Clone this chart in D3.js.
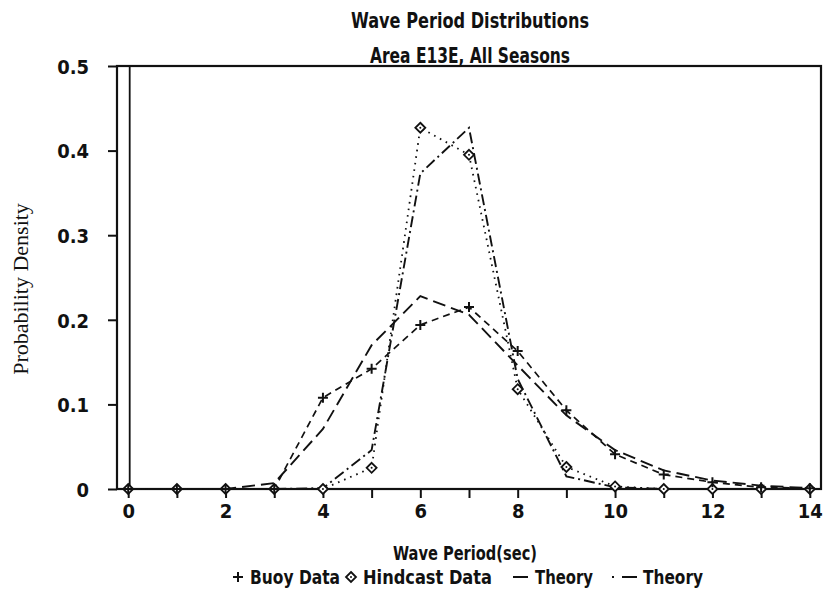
<!DOCTYPE html>
<html>
<head>
<meta charset="utf-8">
<script src="https://cdn.jsdelivr.net/npm/d3@7"></script>
<style>
  html, body { margin: 0; padding: 0; background: #fff; }
  svg { display: block; }
  .cond { font-family: "DejaVu Sans Condensed", "DejaVu Sans", sans-serif; font-weight: bold; fill: #111; }
  .serif { font-family: "Liberation Serif", "DejaVu Serif", serif; fill: #111; }
</style>
</head>
<body>
<svg id="chart" width="825" height="591"></svg>
<script>
// Wave period (s) at which the densities are tabulated
const periods = [0, 1, 2, 3, 4, 5, 6, 7, 8, 9, 10, 11, 12, 13, 14];
// Observed and modelled probability densities
const buoyData     = [0, 0, 0, 0, 0.108, 0.142, 0.194, 0.215, 0.163, 0.093, 0.041, 0.017, 0.008, 0.002, 0.001];
const hindcastData = [0, 0, 0, 0, 0, 0.025, 0.427, 0.395, 0.118, 0.026, 0.003, 0, 0, 0, 0];
const theoryBuoy   = [0, 0, 0, 0.007, 0.071, 0.170, 0.228, 0.206, 0.146, 0.087, 0.046, 0.022, 0.010, 0.004, 0.001];
const theoryHind   = [0, 0, 0, 0, 0.001, 0.046, 0.373, 0.427, 0.130, 0.015, 0.002, 0, 0, 0, 0];
// Axis ticks
const xTicks = [0, 1, 2, 3, 4, 5, 6, 7, 8, 9, 10, 11, 12, 13, 14];
const xTickLabels = [0, 2, 4, 6, 8, 10, 12, 14];
const yTicks = [0, 0.1, 0.2, 0.3, 0.4, 0.5];
const legendItems = ["Buoy Data", "Hindcast Data", "Theory", "Theory"];

const svg = d3.select("#chart");
const plotL = 117, plotR = 821, plotT = 66, plotB = 489;

const x = d3.scaleLinear().domain([-0.23, 14.23]).range([plotL, plotR]);
const y = d3.scaleLinear().domain([0, 0.5]).range([plotB, plotT]);

// Condensed bold label with a fixed drawn width
const condText = (g, tx, ty, str, size, width, anchor = "start") =>
  g.append("text").attr("class", "cond").attr("x", tx).attr("y", ty)
    .attr("font-size", size).attr("text-anchor", anchor)
    .attr("textLength", width).attr("lengthAdjust", "spacingAndGlyphs").text(str);

// Titles
condText(svg, 470, 28, "Wave Period Distributions", 22, 238, "middle");
condText(svg, 470, 63, "Area E13E, All Seasons", 22, 200, "middle");

// Axes
const yAxis = d3.axisLeft(y).tickValues(yTicks).tickSize(9).tickPadding(19)
  .tickFormat(d => d === 0 ? "0" : d3.format(".1f")(d));
const gy = svg.append("g").attr("transform", `translate(${plotL},0)`).call(yAxis);
gy.select(".domain").remove();
gy.selectAll(".tick line").attr("stroke", "#111").attr("stroke-width", 2);
gy.selectAll(".tick text").attr("class", "cond").attr("font-size", 20).attr("dy", "0.36em");

const xAxis = d3.axisBottom(x).tickValues(xTicks).tickSize(9).tickPadding(3)
  .tickFormat(d => xTickLabels.includes(d) ? d : "");
const gx = svg.append("g").attr("transform", `translate(0,${plotB})`).call(xAxis);
gx.select(".domain").remove();
gx.selectAll(".tick line").attr("stroke", "#111").attr("stroke-width", 2);
gx.selectAll(".tick text").attr("class", "cond").attr("font-size", 20).attr("dy", "0.85em");

// Plot frame and the zero-period line
svg.append("rect").attr("x", plotL).attr("y", plotT).attr("width", plotR - plotL).attr("height", plotB - plotT)
  .attr("fill", "none").attr("stroke", "#111").attr("stroke-width", 2.2);
svg.append("line").attr("x1", x(0) + 1.5).attr("x2", x(0) + 1.5).attr("y1", y(0.5)).attr("y2", y(0))
  .attr("stroke", "#111").attr("stroke-width", 1.8);

// Curves
const line = d3.line().x((d, i) => x(periods[i])).y(d => y(d));
const curves = [
  { data: buoyData, dash: "7,5", w: 1.7 },
  { data: theoryBuoy, dash: "13,6", w: 1.9 },
  { data: hindcastData, dash: "1.6,5", w: 1.8 },
  { data: theoryHind, dash: "11,4,2,4", w: 1.9 }
];
curves.forEach(c => {
  svg.append("path").attr("d", line(c.data)).attr("fill", "none")
    .attr("stroke", "#111").attr("stroke-width", c.w).attr("stroke-dasharray", c.dash);
});

// Markers
const plus = (g, cx, cy, s) => {
  g.append("path").attr("d", `M${cx - s},${cy}H${cx + s}M${cx},${cy - s}V${cy + s}`)
    .attr("stroke", "#111").attr("stroke-width", 2).attr("fill", "none");
};
const diamond = (g, cx, cy, s) => {
  g.append("path").attr("d", `M${cx},${cy - s}L${cx + s},${cy}L${cx},${cy + s}L${cx - s},${cy}Z`)
    .attr("stroke", "#111").attr("stroke-width", 1.8).attr("fill", "#fff");
  g.append("circle").attr("cx", cx).attr("cy", cy).attr("r", 1).attr("fill", "#111");
};
const gm = svg.append("g");
periods.forEach((p, i) => {
  diamond(gm, x(p), y(hindcastData[i]), 5);
  plus(gm, x(p), y(buoyData[i]), 5);
});

// Axis titles
svg.append("text").attr("class", "serif").attr("font-size", 22)
  .attr("transform", "translate(28,289) rotate(-90)").attr("text-anchor", "middle")
  .text("Probability Density");
condText(svg, 465, 560, "Wave Period(sec)", 19, 144, "middle");

// Legend
const lg = svg.append("g");
const ly = 584;
plus(lg, 238, ly - 7, 5);
condText(lg, 250, ly, legendItems[0], 19, 90);
diamond(lg, 351, ly - 7, 5);
condText(lg, 363, ly, legendItems[1], 19, 129);
lg.append("line").attr("x1", 513).attr("x2", 528).attr("y1", ly - 7).attr("y2", ly - 7)
  .attr("stroke", "#111").attr("stroke-width", 2);
condText(lg, 535, ly, legendItems[2], 19, 58);
lg.append("line").attr("x1", 612).attr("x2", 637).attr("y1", ly - 7).attr("y2", ly - 7)
  .attr("stroke", "#111").attr("stroke-width", 2).attr("stroke-dasharray", "2,8,15");
condText(lg, 643, ly, legendItems[3], 19, 60);
</script>
</body>
</html>
